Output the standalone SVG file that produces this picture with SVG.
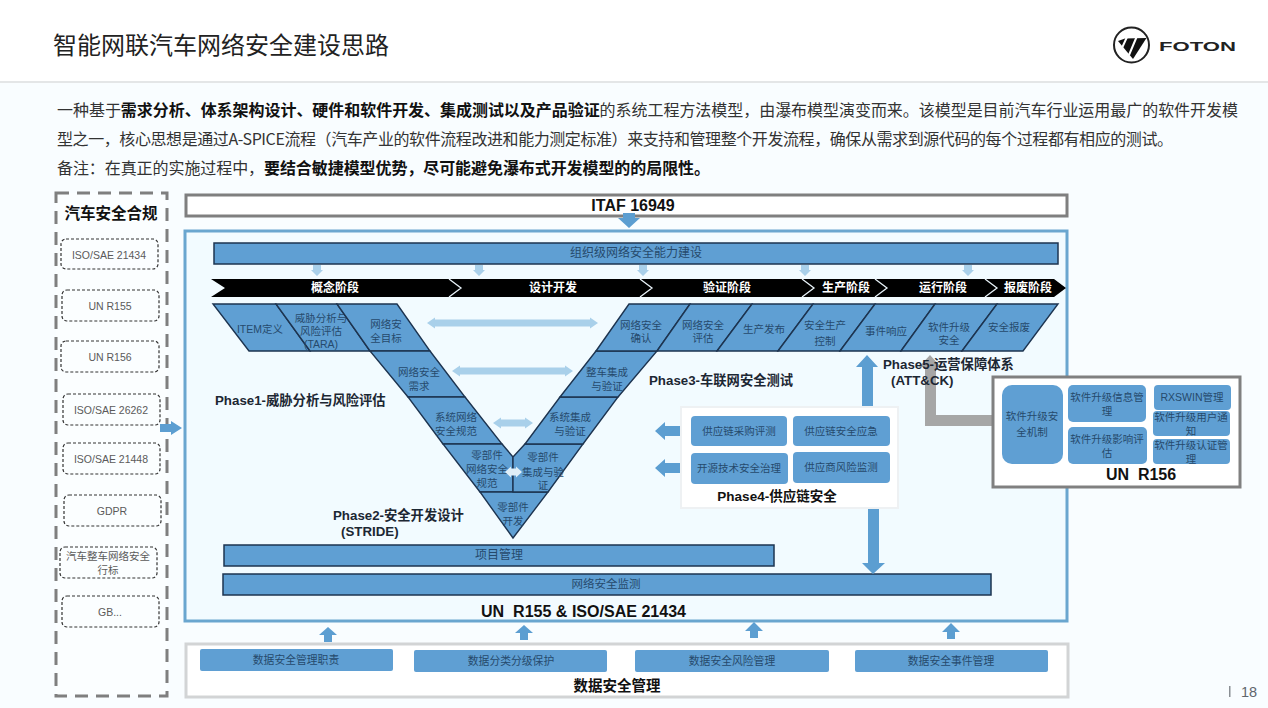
<svg xmlns="http://www.w3.org/2000/svg" width="1268" height="708" viewBox="0 0 1268 708">
<style>
text{font-family:"Liberation Sans","Noto Sans CJK SC",sans-serif;text-anchor:middle}
.body{font-family:"Noto Sans CJK SC",sans-serif;font-size:16px;fill:#333;text-anchor:start}
.body tspan.b{font-weight:700;fill:#111}
.cell{fill:#5f9fd3;stroke:#1d3450;stroke-width:1.4}
.bar{fill:#5f9fd3;stroke:#1d3450;stroke-width:1.5}
.box{fill:#5f9fd3}
.t{font-size:10.5px;fill:#264a6c}
.bt{font-size:11.5px;fill:#264a6c}
.ph{font-size:13.3px;font-weight:700;fill:#1c2733;text-anchor:start}
.h{font-size:14.5px;font-weight:700;fill:#111;white-space:pre}
.ch{font-size:12px;font-weight:700;fill:#fff}
.sep{fill:none;stroke:#e8f2f8;stroke-width:1.3}
.std{fill:#fbfeff;stroke:#333;stroke-width:1.2;stroke-dasharray:3 2}
.stdt{font-size:10.5px;fill:#5a5a5a}
.blue{fill:#5c9ed1}
.pale{fill:#a9d0ea}
.gray{fill:#a6a6a6}
</style>
<rect width="1268" height="708" fill="#f9fdff"/>
<rect width="1268" height="82" fill="#fff"/>
<rect y="81" width="1268" height="2" fill="#e4e6e7"/>

<g id="header">
<text x="53" y="54" style="font-family:'Noto Sans CJK SC',sans-serif;font-size:24px;text-anchor:start;fill:#222">智能网联汽车网络安全建设思路</text>
</g>
<g id="logo">
<circle cx="1131.5" cy="45" r="17.5" fill="#fff" stroke="#222" stroke-width="2"/>
<polygon points="1118,41 1125,38.5 1146.5,38 1133,59" fill="#111"/>
<path d="M1127,37 L1121.5,49 M1137,36 L1129,55" stroke="#fff" stroke-width="2" fill="none"/>
<text x="1197.5" y="51" textLength="77" lengthAdjust="spacingAndGlyphs" style="font-size:12.5px;font-weight:700;fill:#222">FOTON</text>
</g>
<g id="intro">
<text class="body" x="57" y="116" textLength="1181">一种基于<tspan class="b">需求分析、体系架构设计、硬件和软件开发、集成测试以及产品验证</tspan>的系统工程方法模型，由瀑布模型演变而来。该模型是目前汽车行业运用最广的软件开发模</text>
<text class="body" x="57" y="145" textLength="1116">型之一，核心思想是通过A-SPICE流程（汽车产业的软件流程改进和能力测定标准）来支持和管理整个开发流程，确保从需求到源代码的每个过程都有相应的测试。</text>
<text class="body" x="57" y="174" textLength="653">备注：在真正的实施过程中，<tspan class="b">要结合敏捷模型优势，尽可能避免瀑布式开发模型的的局限性。</tspan></text>
</g>

<g id="compliance">
<rect x="56" y="193" width="111" height="503" fill="#fbfeff" stroke="#7f7f7f" stroke-width="3" stroke-dasharray="13 8"/>
<text x="111" y="219" style="font-size:15.5px;font-weight:700;fill:#111">汽车安全合规</text>
<g id="std1"><rect class="std" x="61" y="239" width="97" height="30" rx="5"/><text class="stdt" x="109" y="259">ISO/SAE 21434</text></g>
<g id="std2"><rect class="std" x="62" y="290" width="97" height="31" rx="5"/><text class="stdt" x="110" y="310">UN R155</text></g>
<g id="std3"><rect class="std" x="61" y="341" width="98" height="31" rx="5"/><text class="stdt" x="110" y="361">UN R156</text></g>
<g id="std4"><rect class="std" x="63" y="394" width="97" height="31" rx="5"/><text class="stdt" x="111" y="414">ISO/SAE 26262</text></g>
<g id="std5"><rect class="std" x="63" y="443" width="97" height="31" rx="5"/><text class="stdt" x="111" y="463">ISO/SAE 21448</text></g>
<g id="std6"><rect class="std" x="64" y="495" width="97" height="31" rx="5"/><text class="stdt" x="112" y="515">GDPR</text></g>
<g id="std7"><rect class="std" x="60" y="547" width="97" height="31" rx="5"/><text class="stdt" x="108" y="560">汽车整车网络安全</text><text class="stdt" x="108" y="574">行标</text></g>
<g id="std8"><rect class="std" x="62" y="596" width="97" height="31" rx="5"/><text class="stdt" x="110" y="616">GB...</text></g>
</g>

<g id="itaf">
<rect x="186" y="195" width="881" height="21" fill="#fff" stroke="#7f7f7f" stroke-width="3"/>
<text class="h" x="633" y="211" style="font-size:16px">ITAF 16949</text>
</g>

<g id="main-panel">
<rect x="185" y="231" width="882" height="390" fill="#f2fbff" stroke="#6aa6cf" stroke-width="3"/>
<text class="h" x="583.5" y="617" textLength="205" lengthAdjust="spacingAndGlyphs" style="font-size:16px">UN  R155 &amp; ISO/SAE 21434</text>
</g>

<g id="capability"><rect class="bar" x="214" y="243" width="844" height="21"/><text class="bt" x="636" y="257" style="font-size:12px">组织级网络安全能力建设</text></g>

<g id="phases">
<polygon points="211,279 1054,279 1066,288 1054,297 211,297 225,288" fill="#000"/>
<path class="sep" d="M449,279 L461,288 L449,297 M640,279 L652,288 L640,297 M802,279 L814,288 L802,297 M875,279 L887,288 L875,297 M985,279 L997,288 L985,297"/>
<text class="ch" x="335" y="292">概念阶段</text>
<text class="ch" x="553" y="292">设计开发</text>
<text class="ch" x="727" y="292">验证阶段</text>
<text class="ch" x="846" y="292">生产阶段</text>
<text class="ch" x="943" y="292">运行阶段</text>
<text class="ch" x="1028" y="292">报废阶段</text>
</g>

<g id="v-model">
<g id="c-item"><polygon class="cell" points="213,304 276,304 310,351 249,351"/><text class="t" x="260" y="333">ITEM定义</text></g>
<g id="c-tara"><polygon class="cell" points="276,304 337,304 370,351 310,351"/><text class="t" x="321" y="322">威胁分析与</text><text class="t" x="321" y="335">风险评估</text><text class="t" x="321" y="348">(TARA)</text></g>
<g id="c-goal"><polygon class="cell" points="337,304 397,304 430,351 370,351"/><text class="t" x="386" y="328">网络安</text><text class="t" x="386" y="342">全目标</text></g>
<g id="c-req"><polygon class="cell" points="370,351 430,351 465,397 408,397"/><text class="t" x="419" y="376">网络安全</text><text class="t" x="419" y="390">需求</text></g>
<g id="c-sys"><polygon class="cell" points="408,397 465,397 502,444 443,444"/><text class="t" x="456" y="421">系统网络</text><text class="t" x="456" y="435">安全规范</text></g>
<g id="c-part"><polygon class="cell" points="443,444 502,444 513,457 513,492 480,492"/><text class="t" x="487" y="459">零部件</text><text class="t" x="487" y="473">网络安全</text><text class="t" x="487" y="487">规范</text></g>
<g id="c-dev"><polygon class="cell" points="480,492 548,492 513,538"/><text class="t" x="513" y="511">零部件</text><text class="t" x="513" y="525">开发</text></g>
<g id="c-pint"><polygon class="cell" points="513,457 525,444 583,444 548,492 513,492"/><text class="t" x="543" y="461">零部件</text><text class="t" x="543" y="476">集成与验</text><text class="t" x="543" y="489">证</text></g>
<g id="c-sint"><polygon class="cell" points="525,444 560,397 618,397 583,444"/><text class="t" x="570" y="421">系统集成</text><text class="t" x="570" y="435">与验证</text></g>
<g id="c-vint"><polygon class="cell" points="560,397 596,351 657,351 618,397"/><text class="t" x="607" y="376">整车集成</text><text class="t" x="607" y="390">与验证</text></g>
<g id="c-conf"><polygon class="cell" points="596,351 629,304 690,304 657,351"/><text class="t" x="641" y="329">网络安全</text><text class="t" x="641" y="342">确认</text></g>
<g id="c-eval"><polygon class="cell" points="657,351 690,304 752,304 717,351"/><text class="t" x="703" y="329">网络安全</text><text class="t" x="703" y="342">评估</text></g>
<g id="c-rel"><polygon class="cell" points="717,351 752,304 813,304 778,351"/><text class="t" x="764" y="333">生产发布</text></g>
<g id="c-ctrl"><polygon class="cell" points="778,351 813,304 875,304 840,351"/><text class="t" x="825" y="329">安全生产</text><text class="t" x="825" y="345">控制</text></g>
<g id="c-inc"><polygon class="cell" points="840,351 875,304 935,304 901,351"/><text class="t" x="886" y="335">事件响应</text></g>
<g id="c-upd"><polygon class="cell" points="901,351 935,304 997,304 962,351"/><text class="t" x="949" y="331">软件升级</text><text class="t" x="949" y="344">安全</text></g>
<g id="c-scrap"><polygon class="cell" points="962,351 997,304 1058,304 1023,351"/><text class="t" x="1009" y="331">安全报废</text></g>
</g>

<g id="project"><rect class="bar" x="224" y="545" width="550" height="21"/><text class="bt" x="499" y="559" style="font-size:12px">项目管理</text></g>
<g id="monitor"><rect class="bar" x="223" y="574" width="768" height="21"/><text class="bt" x="606" y="588">网络安全监测</text></g>

<g id="connectors">
<polygon class="pale" points="427,323 435,317.5 435,319.5 590,319.5 590,317.5 598,323 590,328.5 590,326.5 435,326.5 435,328.5"/>
<polygon class="pale" points="452,371 460,365.5 460,367.5 565,367.5 565,365.5 573,371 565,376.5 565,374.5 460,374.5 460,376.5"/>
<polygon class="pale" points="493,423 501,417.5 501,419.5 525,419.5 525,417.5 533,423 525,428.5 525,426.5 501,426.5 501,428.5"/>
<polygon points="505,472 511,466.5 511,468.5 516,468.5 516,466.5 522,472 516,477.5 516,475.5 511,475.5 511,477.5" fill="#dfeef8"/>
<g class="pale">
<polygon points="313,265 321,265 321,270 323,270 317,276 311,270 313,270"/>
<polygon points="475,265 483,265 483,270 485,270 479,276 473,270 475,270"/>
<polygon points="639,265 647,265 647,270 649,270 643,276 637,270 639,270"/>
<polygon points="801,265 809,265 809,270 811,270 805,276 799,270 801,270"/>
<polygon points="964,265 972,265 972,270 974,270 968,276 962,270 964,270"/>
</g>
<polygon class="blue" points="623,213 635,213 635,218 640,218 629,228 618,218 623,218"/>
<polygon class="blue" points="160,424 171,424 171,421 182,428 171,435 171,432 160,432"/>
<polygon class="blue" points="862,418 862,367 856,367 867,355 878,367 873,367 873,418"/>
<polygon class="gray" points="1002,415 936,415 936,367 941,367 930,355 919,367 925,367 925,426 1002,426"/>
<polygon class="blue" points="868,483 879,483 879,563 885,563 873,574 862,563 868,563"/>
<polygon class="blue" points="691,426 665,426 665,422 655,431 665,440 665,436 691,436"/>
<polygon class="blue" points="691,463 665,463 665,459 655,468 665,477 665,473 691,473"/>
<polygon class="blue" points="324,642 332,642 332,635 337,635 328,627 319,635 324,635"/>
<polygon class="blue" points="520,640 528,640 528,633 533,633 524,625 515,633 520,633"/>
<polygon class="blue" points="750,638 758,638 758,631 763,631 754,622 745,631 750,631"/>
<polygon class="blue" points="947,639 955,639 955,632 960,632 951,623 942,632 947,632"/>
</g>

<g id="phase-labels">
<text class="ph" x="215" y="405">Phase1-威胁分析与风险评估</text>
<text class="ph" x="333" y="520">Phase2-安全开发设计</text>
<text class="ph" x="341" y="536">(STRIDE)</text>
<text class="ph" x="649" y="385">Phase3-车联网安全测试</text>
<text class="ph" x="883" y="369">Phase5-运营保障体系</text>
<text class="ph" x="891" y="385">(ATT&amp;CK)</text>
</g>

<g id="supply-chain">
<rect x="681" y="407" width="217" height="101" fill="#fff" stroke="#eef1f3" stroke-width="2"/>
<g id="s1"><rect class="box" x="691" y="416" width="96" height="30" rx="4"/><text class="t" x="739" y="435">供应链采购评测</text></g>
<g id="s2"><rect class="box" x="793" y="416" width="97" height="30" rx="4"/><text class="t" x="841" y="435">供应链安全应急</text></g>
<g id="s3"><rect class="box" x="691" y="453" width="97" height="31" rx="4"/><text class="t" x="739" y="472">开源技术安全治理</text></g>
<g id="s4"><rect class="box" x="793" y="452" width="97" height="31" rx="4"/><text class="t" x="841" y="471">供应商风险监测</text></g>
<text class="h" x="777" y="501" style="font-size:13.5px">Phase4-供应链安全</text>
</g>

<g id="un-r156">
<rect x="993" y="377" width="247" height="110" fill="#fff" stroke="#808080" stroke-width="3"/>
<g id="u1"><rect class="box" x="1002" y="385" width="61" height="79" rx="10"/><text class="t" x="1032" y="420">软件升级安</text><text class="t" x="1032" y="436">全机制</text></g>
<g id="u2"><rect class="box" x="1068" y="385" width="78" height="37" rx="5"/><text class="t" x="1107" y="401">软件升级信息管</text><text class="t" x="1107" y="415">理</text></g>
<g id="u3"><rect class="box" x="1068" y="427" width="79" height="37" rx="5"/><text class="t" x="1107" y="443">软件升级影响评</text><text class="t" x="1107" y="457">估</text></g>
<g id="u4"><rect class="box" x="1154" y="385" width="77" height="25" rx="4"/><text class="t" x="1192" y="401">RXSWIN管理</text></g>
<g id="u5"><rect class="box" x="1153" y="411" width="77" height="25" rx="4"/><text class="t" x="1191" y="421">软件升级用户通</text><text class="t" x="1191" y="435">知</text></g>
<g id="u6"><rect class="box" x="1153" y="439" width="77" height="25" rx="4"/><text class="t" x="1191" y="449">软件升级认证管</text><text class="t" x="1191" y="463">理</text></g>
<text class="h" x="1141" y="480" style="font-size:16px">UN  R156</text>
</g>

<g id="data-security">
<rect x="186" y="644" width="882" height="53" fill="#fff" stroke="#d2d4d5" stroke-width="3"/>
<g id="d1"><rect class="box" x="200" y="649" width="193" height="22" rx="2"/><text class="t" x="296" y="664" style="font-size:10.8px">数据安全管理职责</text></g>
<g id="d2"><rect class="box" x="414" y="650" width="193" height="22" rx="2"/><text class="t" x="511" y="665" style="font-size:10.8px">数据分类分级保护</text></g>
<g id="d3"><rect class="box" x="635" y="650" width="194" height="22" rx="2"/><text class="t" x="732" y="665" style="font-size:10.8px">数据安全风险管理</text></g>
<g id="d4"><rect class="box" x="855" y="650" width="193" height="22" rx="2"/><text class="t" x="951" y="665" style="font-size:10.8px">数据安全事件管理</text></g>
<text class="h" x="617" y="691" style="font-size:14.5px">数据安全管理</text>
</g>

<g id="page">
<rect x="1229" y="686" width="1.5" height="11" fill="#8a8f94"/>
<text x="1249" y="697" style="font-size:14.5px;fill:#5f666d">18</text>
</g>
</svg>
